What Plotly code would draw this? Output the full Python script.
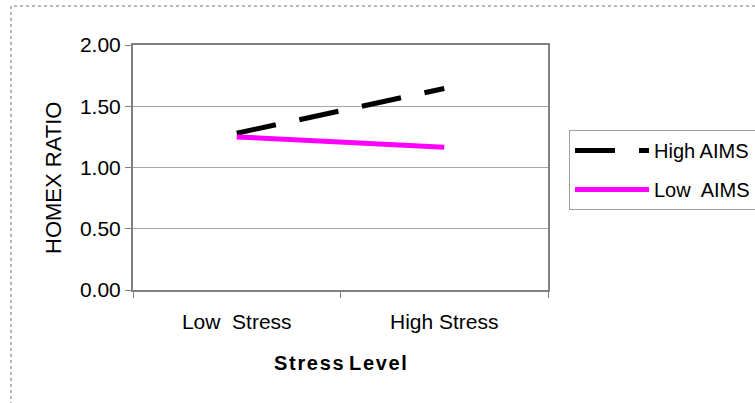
import plotly.graph_objects as go

categories = ["Low  Stress", "High Stress"]
high_aims = [1.28, 1.645]
low_aims = [1.25, 1.165]
y_ticks = [0.0, 0.5, 1.0, 1.5, 2.0]
y_tick_labels = ["0.00", "0.50", "1.00", "1.50", "2.00"]

W, H = 755, 403
L, R, T, B = 133, 548, 45, 290

fig = go.Figure()
fig.add_trace(go.Scatter(
    x=categories, y=high_aims, name="High AIMS", mode="lines",
    legendgroup="high",
    line=dict(color="black", width=5, dash="40px,24px"),
))
fig.add_trace(go.Scatter(
    x=categories, y=low_aims, name="Low  AIMS", mode="lines",
    legendgroup="low",
    line=dict(color="#ff00ff", width=5),
))

def px_x(p):
    return (p - L) / (R - L)

def px_y(p):
    return (B - p) / (B - T)

# outer chart-area frame
fig.add_shape(type="rect", xref="paper", yref="paper",
              x0=px_x(11), x1=px_x(800), y0=px_y(450), y1=px_y(6),
              line=dict(color="#a0a0a0", width=1.5, dash="dot"), layer="below")

# vertical axis title
fig.add_annotation(text="HOMEX RATIO", xref="paper", yref="paper",
                   x=px_x(53), y=px_y(178), textangle=-90, showarrow=False,
                   xanchor="center", yanchor="middle", font=dict(size=22))

fig.update_layout(
    width=W, height=H, autosize=False,
    margin=dict(l=L, r=W - R, t=T, b=H - B),
    paper_bgcolor="white", plot_bgcolor="white",
    font=dict(family="Liberation Sans, Arial", color="black", size=20),
    showlegend=True,
    legend=dict(
        xref="container", x=569 / W, y=px_y(130), xanchor="left", yanchor="top",
        bordercolor="#a0a0a0", borderwidth=1, bgcolor="white",
        font=dict(size=20), itemwidth=74, tracegroupgap=10,
    ),
    xaxis=dict(
        type="category", range=[-0.5, 1.5], tickson="boundaries",
        ticks="outside", ticklen=6, tickcolor="#808080", tickwidth=1,
        ticklabelstandoff=12,
        showgrid=False, showline=True, linecolor="#808080", linewidth=2,
        mirror=True, zeroline=False,
        tickfont=dict(size=21),
        title=dict(text="<b>S\u200at\u200ar\u200ae\u200as\u200as L\u200ae\u200av\u200ae\u200al</b>",
                   font=dict(size=20), standoff=24),
    ),
    yaxis=dict(
        range=[0, 2], tickvals=y_ticks, ticktext=y_tick_labels,
        ticks="outside", ticklen=6, tickcolor="#808080", tickwidth=1,
        showgrid=True, gridcolor="#a6a6a6", gridwidth=1,
        showline=True, linecolor="#808080", linewidth=2, mirror=True,
        zeroline=False, tickfont=dict(size=21),
    ),
)

fig.write_html("out.html")
